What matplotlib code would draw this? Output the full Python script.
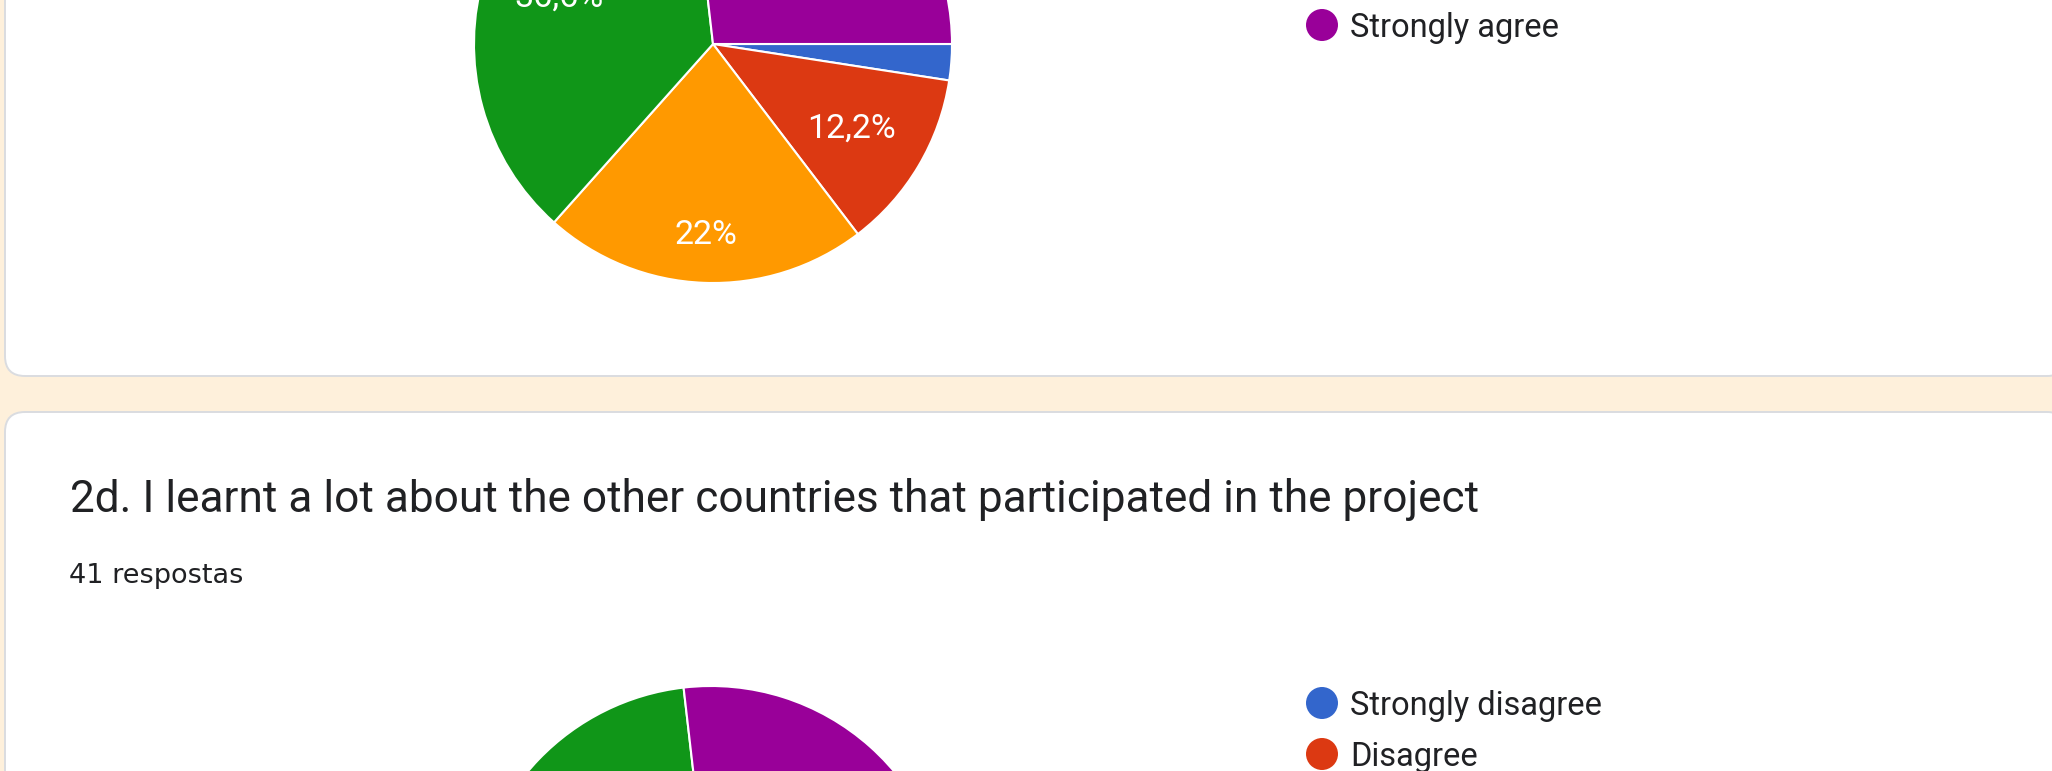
import math
import matplotlib.pyplot as plt
from matplotlib.patches import FancyBboxPatch, Circle

# answers are the same for both questions
answers = ["Strongly disagree", "Disagree", "Neutral", "Agree", "Strongly agree"]
colors = ["#3366cc", "#dc3912", "#ff9900", "#109618", "#990099"]

counts_2c = [1, 5, 9, 15, 11]   # upper chart (only the bottom part is visible)
counts_2d = [1, 3, 8, 18, 11]   # lower chart (only the top part is visible)

title_2d = "2d. I learnt a lot about the other countries that participated in the project"
responses_2d = "41 respostas"

W, H = 2052, 771
BG = "#fef0db"
BORDER = "#dadce0"
TEXT = "#202124"
FONT = "Roboto"


def fmt_pct(v, total):
    s = f"{v / total * 100:.1f}".rstrip("0").rstrip(".")
    return s.replace(".", ",") + "%"


def sy(y):
    # screen pixel (y down) -> data y (y up)
    return H - y


def draw_card(ax, top, bottom):
    card = FancyBboxPatch((5, sy(bottom)), W + 10, bottom - top,
                          boxstyle="round,pad=0,rounding_size=20",
                          facecolor="white", edgecolor=BORDER, linewidth=1.4, zorder=1)
    ax.add_patch(card)


def draw_pie(ax, counts, cx, cy, r=239):
    total = sum(counts)
    wedges, _ = ax.pie(counts, colors=colors, startangle=0, counterclock=False,
                       center=(cx, sy(cy)), radius=r, frame=True,
                       wedgeprops=dict(edgecolor="white", linewidth=1.5, zorder=3))
    for w, v in zip(wedges, counts):
        if v / total < 0.05:
            continue
        mid = (w.theta1 + w.theta2) / 2
        # google puts the label of a mid-size bottom slice a bit further out
        dist = 0.79 if 60 < (w.theta2 - w.theta1) < 90 else 0.675
        tx = cx + r * dist * math.cos(math.radians(mid))
        ty = sy(cy) + r * dist * math.sin(math.radians(mid)) - 2
        ax.text(tx, ty, fmt_pct(v, total), color="white", fontsize=24.5,
                family=FONT, ha="center", va="center", zorder=4)


def draw_legend(ax, x, first_y, y_step=51):
    for i, lab in enumerate(answers):
        y = first_y + i * y_step
        ax.add_patch(Circle((x, sy(y)), 16, facecolor=colors[i], edgecolor="none", zorder=3))
        ax.text(x + 28, sy(y + 3), lab, color=TEXT, fontsize=23.5, family=FONT,
                ha="left", va="center", zorder=3)


fig = plt.figure(figsize=(W / 100, H / 100), dpi=100, facecolor=BG)
ax = fig.add_axes([0, 0, 1, 1])
ax.set_facecolor(BG)

draw_card(ax, -60, 376)
draw_card(ax, 412, 900)

draw_pie(ax, counts_2c, 713, 44)
draw_legend(ax, 1322, first_y=25 - 4 * 51)

ax.text(70, sy(512), title_2d, color=TEXT, fontsize=31.8, family=FONT,
        ha="left", va="baseline", zorder=3)
ax.text(69, sy(583), responses_2d, color=TEXT, fontsize=19.5, family="DejaVu Sans",
        ha="left", va="baseline", zorder=3)

draw_pie(ax, counts_2d, 711, 925)
draw_legend(ax, 1322, first_y=703)

ax.set_xlim(0, W)
ax.set_ylim(0, H)
ax.set_aspect("equal")
ax.axis("off")

fig.savefig("out.png", dpi=100, facecolor=BG)
